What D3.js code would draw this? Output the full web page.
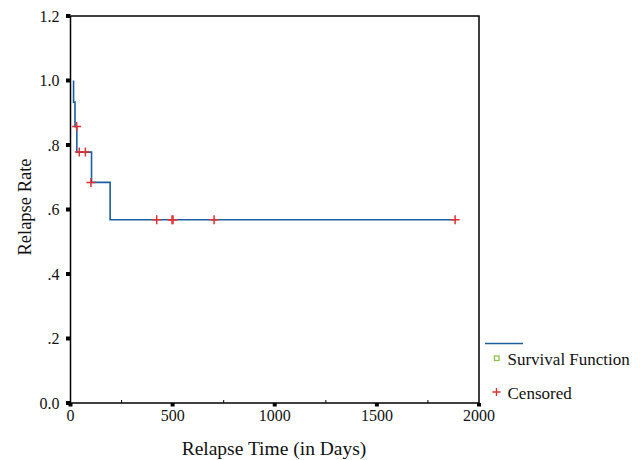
<!DOCTYPE html>
<html>
<head>
<meta charset="utf-8">
<script src="https://cdn.jsdelivr.net/npm/d3@7"></script>
<style>
  body { margin: 0; background: #fff; }
</style>
</head>
<body>
<div id="chart"></div>
<script>
// Kaplan-Meier step curve (time in days, survival)
const stepTimes = [15, 15, 22, 31, 103, 194, 1885];
const stepRates = [1.0, 0.933, 0.857, 0.778, 0.684, 0.568, 0.568];

// Censored observations
const censorTimes = [30, 43, 73, 100, 422, 497, 502, 703, 1883];
const censorRates = [0.857, 0.778, 0.778, 0.684, 0.568, 0.568, 0.568, 0.568, 0.568];

const xTicks = [0, 500, 1000, 1500, 2000];
const xMinor = [250, 750, 1250, 1750];
const yTicks = [0, 0.2, 0.4, 0.6, 0.8, 1.0, 1.2];
const yTickLabels = ['0.0', '.2', '.4', '.6', '.8', '1.0', '1.2'];
const legendLabels = ['Survival Function', 'Censored'];

const width = 640, height = 460;
const margin = { top: 16, right: 161, bottom: 57, left: 70.5 };
const innerW = width - margin.left - margin.right;
const innerH = height - margin.top - margin.bottom;

const lineColor = '#1b5fa3';
const censorColor = '#e03232';
const fontFamily = '"Liberation Serif", "Times New Roman", Times, serif';

const svg = d3.select('#chart').append('svg')
  .attr('width', width)
  .attr('height', height)
  .attr('font-family', fontFamily)
  .style('font-family', fontFamily);

const g = svg.append('g')
  .attr('transform', `translate(${margin.left},${margin.top})`);

const x = d3.scaleLinear().domain([0, 2000]).range([0, innerW]);
const y = d3.scaleLinear().domain([0, 1.2]).range([innerH, 0]);

// frame (top and right)
g.append('path')
  .attr('d', `M0,0H${innerW}V${innerH}`)
  .attr('fill', 'none')
  .attr('stroke', '#000')
  .attr('stroke-width', 1.5);

// x axis
const xAxis = g.append('g').attr('transform', `translate(0,${innerH})`);
xAxis.append('line')
  .attr('x1', 0).attr('x2', innerW)
  .attr('stroke', '#000').attr('stroke-width', 1.5);
xAxis.selectAll('.major').data(xTicks).join('rect')
  .attr('x', d => x(d) - 2).attr('y', 0)
  .attr('width', 4).attr('height', 3.5)
  .attr('fill', '#000');
xAxis.selectAll('.minor').data(xMinor).join('line')
  .attr('x1', d => x(d)).attr('x2', d => x(d))
  .attr('y1', -3).attr('y2', 0)
  .attr('stroke', '#000').attr('stroke-width', 1);
xAxis.selectAll('.lbl').data(xTicks).join('text')
  .attr('x', d => x(d))
  .attr('y', 18)
  .attr('text-anchor', 'middle')
  .attr('font-size', 16)
  .attr('fill', '#111')
  .text(d => d);

// y axis
const yAxis = g.append('g');
yAxis.append('line')
  .attr('y1', 0).attr('y2', innerH)
  .attr('stroke', '#000').attr('stroke-width', 1.5);
yAxis.selectAll('.major').data(yTicks).join('rect')
  .attr('x', -4.5).attr('y', d => y(d) - 2)
  .attr('width', 4.5).attr('height', 4)
  .attr('fill', '#000');
yAxis.selectAll('.lbl').data(yTicks).join('text')
  .attr('x', -11)
  .attr('y', d => y(d))
  .attr('dy', '0.35em')
  .attr('text-anchor', 'end')
  .attr('font-size', 16)
  .attr('fill', '#111')
  .text((d, i) => yTickLabels[i]);

// axis titles
svg.append('text')
  .attr('x', 274)
  .attr('y', 455)
  .attr('text-anchor', 'middle')
  .attr('font-size', 19.5)
  .attr('fill', '#111')
  .text('Relapse Time (in Days)');

svg.append('text')
  .attr('transform', 'translate(31,207) rotate(-90)')
  .attr('text-anchor', 'middle')
  .attr('font-size', 18.5)
  .attr('fill', '#111')
  .text('Relapse Rate');

// survival step line
const stepData = stepTimes.map((t, i) => ({ t, s: stepRates[i] }));
const line = d3.line()
  .x(d => x(d.t))
  .y(d => y(d.s))
  .curve(d3.curveStepAfter);

g.append('path')
  .datum(stepData)
  .attr('d', line)
  .attr('fill', 'none')
  .attr('stroke', lineColor)
  .attr('stroke-width', 1.6);

// censored marks
const censorData = censorTimes.map((t, i) => ({ t, s: censorRates[i] }));
const plus = (cx, cy, r) => `M${cx - r},${cy}H${cx + r}M${cx},${cy - r}V${cy + r}`;
g.selectAll('.censor').data(censorData).join('path')
  .attr('class', 'censor')
  .attr('d', d => plus(x(d.t), y(d.s), 4.5))
  .attr('stroke', censorColor)
  .attr('stroke-width', 1.5)
  .attr('fill', 'none');

// legend
const leg = svg.append('g');
leg.append('line')
  .attr('x1', 485).attr('x2', 523)
  .attr('y1', 343.5).attr('y2', 343.5)
  .attr('stroke', lineColor).attr('stroke-width', 1.5);
leg.append('rect')
  .attr('x', 494.5).attr('y', 356)
  .attr('width', 4.5).attr('height', 4.5)
  .attr('fill', 'none')
  .attr('stroke', '#8cc04a').attr('stroke-width', 1.3);
leg.append('path')
  .attr('d', plus(496.5, 392, 4))
  .attr('stroke', censorColor).attr('stroke-width', 1.3);
leg.selectAll('.ltxt').data(legendLabels).join('text')
  .attr('x', 507.5)
  .attr('y', (d, i) => 364.5 + i * 34)
  .attr('font-size', 17)
  .attr('fill', '#111')
  .text(d => d);
</script>
</body>
</html>
